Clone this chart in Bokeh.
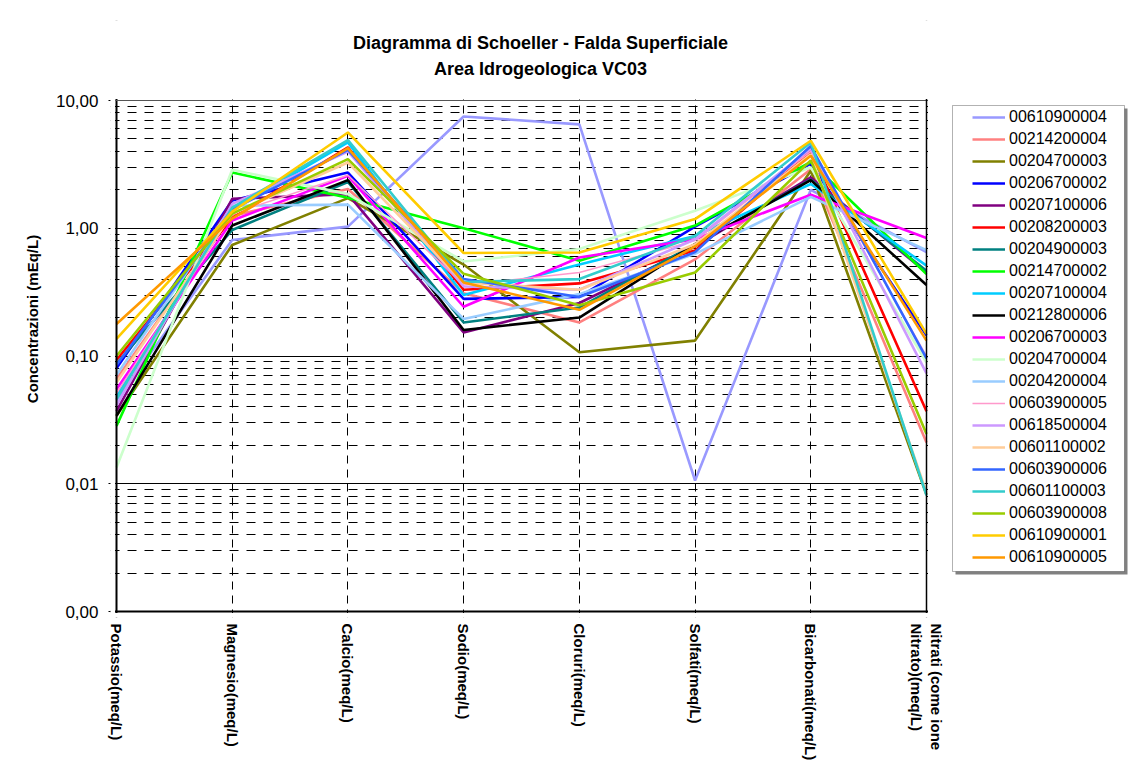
from bokeh.plotting import figure
from bokeh.models import (Range1d, FixedTicker, CustomJSTickFormatter, Legend,
                          LegendItem, Label, Span, BoxAnnotation)
from bokeh.embed import file_html
from bokeh.resources import INLINE

categories = ["Potassio(meq/L)", "Magnesio(meq/L)", "Calcio(meq/L)",
              "Sodio(meq/L)", "Cloruri(meq/L)", "Solfati(meq/L)",
              "Bicarbonati(meq/L)", "Nitrati (come ione\nNitrato)(meq/L)"]

names = ["00610900004", "00214200004", "00204700003", "00206700002",
         "00207100006", "00208200003", "00204900003", "00214700002",
         "00207100004", "00212800006", "00206700003", "00204700004",
         "00204200004", "00603900005", "00618500004", "00601100002",
         "00603900006", "00601100003", "00603900008", "00610900001",
         "00610900005"]

colors = ["#9999FF", "#FF8080", "#808000", "#0000FF", "#800080", "#FF0000",
          "#008080", "#00FF00", "#00CCFF", "#000000", "#FF00FF", "#CCFFCC",
          "#99CCFF", "#FF99CC", "#CC99FF", "#FFCC99", "#3366FF", "#33CCCC",
          "#99CC00", "#FFCC00", "#FF9900"]

s_00610900004 = [0.045, 0.81, 1.03, 7.5, 6.5, 0.0106, 2.0, 0.65]
s_00214200004 = [0.066, 1.25, 2.03, 0.31, 0.183, 0.57, 2.9, 0.021]
s_00204700003 = [0.034, 0.74, 1.72, 0.52, 0.107, 0.132, 2.82, 0.0082]
s_00206700002 = [0.080, 1.65, 2.73, 0.28, 0.29, 1.03, 3.2, 0.145]
s_00207100006 = [0.037, 1.70, 1.85, 0.153, 0.26, 0.72, 2.5, 0.45]
s_00208200003 = [0.093, 1.20, 4.3, 0.33, 0.37, 0.67, 4.0, 0.037]
s_00204900003 = [0.087, 0.97, 2.3, 0.183, 0.24, 0.75, 2.4, 0.465]
s_00214700002 = [0.0284, 2.73, 1.73, 1.0, 0.557, 1.05, 3.3, 0.437]
s_00207100004 = [0.048, 1.40, 4.7, 0.30, 0.52, 0.87, 2.22, 0.51]
s_00212800006 = [0.034, 1.05, 2.38, 0.160, 0.20, 0.75, 2.38, 0.36]
s_00206700003 = [0.055, 1.15, 2.57, 0.243, 0.59, 0.82, 1.83, 0.84]
s_00204700004 = [0.0134, 2.87, 1.85, 0.55, 0.687, 1.37, 3.0, 0.089]
s_00204200004 = [0.071, 1.50, 1.53, 0.195, 0.305, 0.63, 1.76, 0.675]
s_00603900005 = [0.051, 1.30, 2.6, 0.36, 0.45, 0.80, 4.0, 0.10]
s_00618500004 = [0.041, 1.55, 3.99, 0.35, 0.33, 0.82, 4.2, 0.073]
s_00601100002 = [0.062, 1.30, 3.27, 0.376, 0.33, 0.75, 3.8, 0.0085]
s_00603900006 = [0.085, 1.40, 4.1, 0.40, 0.29, 0.65, 4.4, 0.096]
s_00601100003 = [0.046, 1.45, 4.9, 0.38, 0.40, 0.87, 4.7, 0.0081]
s_00603900008 = [0.100, 1.30, 3.48, 0.44, 0.25, 0.45, 3.4, 0.0245]
s_00610900001 = [0.136, 1.35, 5.62, 0.64, 0.646, 1.18, 4.84, 0.149]
s_00610900005 = [0.178, 1.19, 4.24, 0.376, 0.23, 0.72, 3.69, 0.132]

series = [s_00610900004, s_00214200004, s_00204700003, s_00206700002,
          s_00207100006, s_00208200003, s_00204900003, s_00214700002,
          s_00207100004, s_00212800006, s_00206700003, s_00204700004,
          s_00204200004, s_00603900005, s_00618500004, s_00601100002,
          s_00603900006, s_00601100003, s_00603900008, s_00610900001,
          s_00610900005]

title_lines = ["Diagramma di Schoeller - Falda Superficiale",
               "Area Idrogeologica VC03"]

y_major = [0.001, 0.01, 0.1, 1, 10]
y_minor = [k * d for d in [0.001, 0.01, 0.1, 1] for k in range(2, 10)]

FONT = "Liberation Sans"

# layout in pixels: plotting area is x 116..926, y 100..611.  The Bokeh frame
# is larger (so titles and legend sit inside it); the extra parts are covered.
W, H = 1128, 780
PLOT_L, PLOT_R, PLOT_T, PLOT_B = 116, 926, 100, 611
FR_L, FR_T, FR_B = 110, 20, 617
n_last = len(categories) - 1
cat_px = (PLOT_R - PLOT_L) / n_last
decade_px = (PLOT_B - PLOT_T) / (len(y_major) - 1)
x_start = -(PLOT_L - FR_L) / cat_px
x_end = (W - PLOT_L) / cat_px
y_bot = y_major[0] * 10 ** (-(FR_B - PLOT_B) / decade_px)
y_top = y_major[-1] * 10 ** ((PLOT_T - FR_T) / decade_px)
gx = 1.5 / cat_px               # 1.5 px in x data units
gy = 10 ** (1.5 / decade_px)    # 1.5 px factor in y

p = figure(width=W, height=H, y_axis_type="log",
           x_range=Range1d(x_start, x_end), y_range=Range1d(y_bot, y_top),
           output_backend="svg", toolbar_location=None,
           min_border_left=FR_L, min_border_right=0,
           min_border_top=FR_T, min_border_bottom=H - FR_B)
p.background_fill_color = "white"
p.border_fill_color = "white"
p.outline_line_color = None

# axes
p.xaxis.ticker = FixedTicker(ticks=list(range(len(categories))))
p.xaxis.major_label_overrides = {i: c for i, c in enumerate(categories)}
p.xaxis.major_label_orientation = "vertical"
p.xaxis.major_label_text_font = FONT
p.xaxis.major_label_text_font_style = "bold"
p.xaxis.major_label_text_font_size = "15px"
p.xaxis.major_label_text_color = "black"
p.xaxis.major_tick_out = 0
p.xaxis.major_tick_in = 0
p.xaxis.minor_tick_line_color = None
p.xaxis.major_label_standoff = 6
p.xaxis.axis_line_color = None

p.yaxis.ticker = FixedTicker(ticks=y_major, minor_ticks=y_minor)
p.yaxis.formatter = CustomJSTickFormatter(code="return tick.toFixed(2).replace('.', ',');")
p.yaxis.major_label_text_font = FONT
p.yaxis.major_label_text_font_size = "17px"
p.yaxis.major_label_text_color = "black"
p.yaxis.major_tick_out = 2
p.yaxis.major_tick_in = 6
p.yaxis.minor_tick_line_color = None
p.yaxis.major_label_standoff = 8
p.yaxis.axis_line_color = None
p.yaxis.axis_label = "Concentrazioni (mEq/L)"
p.yaxis.axis_label_text_font = FONT
p.yaxis.axis_label_text_font_style = "bold"
p.yaxis.axis_label_text_font_size = "15px"
p.yaxis.axis_label_text_color = "black"
p.yaxis.axis_label_standoff = 12

# grids
p.ygrid.grid_line_color = "black"
p.ygrid.grid_line_width = 1
p.ygrid.minor_grid_line_color = "black"
p.ygrid.minor_grid_line_dash = "9 8"
p.ygrid.minor_grid_line_width = 1
p.xgrid.grid_line_color = "black"
p.xgrid.grid_line_dash = "8 6"
p.xgrid.grid_line_width = 1

xs = list(range(len(categories)))
items = []
for name, col, vals in zip(names, colors, series):
    lw = 1.5 if name == "00603900005" else 2.6
    r = p.line(xs, vals, line_color=col, line_width=lw)
    items.append(LegendItem(label=name, renderers=[r]))

# borders of the plotting area
p.add_layout(Span(location=y_major[0], dimension="width", line_color="black", line_width=2))
p.add_layout(Span(location=0, dimension="height", line_color="black", line_width=2))
p.add_layout(Span(location=y_major[-1], dimension="width", line_color="#555555", line_width=1))
p.add_layout(Span(location=n_last, dimension="height", line_color="black", line_width=1.5))


def cover(left, right, bottom, top):
    p.add_layout(BoxAnnotation(left=left, right=right, bottom=bottom, top=top,
                               fill_color="white", fill_alpha=1.0, line_color=None,
                               editable=False))


big = y_top * 100
cover(x_start - 1, -gx, y_bot / 100, big)                 # left strip
cover(n_last + gx, x_end + 1, y_bot / 100, big)           # right side
cover(x_start - 1, x_end + 1, y_major[-1] * gy, big)      # above
cover(x_start - 1, x_end + 1, y_bot / 100, y_major[0] / gy)  # below

# titles (screen units relative to the frame's bottom-left corner)
for txt, py in [(title_lines[0], 42), (title_lines[1], 68)]:
    p.add_layout(Label(x=540 - FR_L, y=FR_B - py, x_units="screen", y_units="screen",
                       text=txt, text_align="center", text_baseline="middle",
                       text_font=FONT, text_font_style="bold",
                       text_font_size="18px", text_color="black"))

# legend frame (shadow + box)
p.add_layout(BoxAnnotation(left=952 - FR_L + 3, right=1124 - FR_L + 3,
                           top=FR_B - 105 - 3, bottom=FR_B - 571 - 3,
                           left_units="screen", right_units="screen",
                           top_units="screen", bottom_units="screen",
                           fill_color="#808080", fill_alpha=1.0, line_color=None,
                           editable=False))
p.add_layout(BoxAnnotation(left=952 - FR_L, right=1124 - FR_L,
                           top=FR_B - 105, bottom=FR_B - 571,
                           left_units="screen", right_units="screen",
                           top_units="screen", bottom_units="screen",
                           fill_color="white", fill_alpha=1.0, line_color="black",
                           line_width=1, editable=False))

legend = Legend(items=items, location=(972 - FR_L, FR_B - 568), margin=0, padding=0,
                spacing=0, label_height=22, glyph_height=22, glyph_width=33,
                label_standoff=4, label_text_font=FONT,
                label_text_font_size="16px", label_text_color="black",
                background_fill_alpha=0, border_line_color=None)
p.add_layout(legend, "center")

open("out.html", "w").write(file_html(p, INLINE))
